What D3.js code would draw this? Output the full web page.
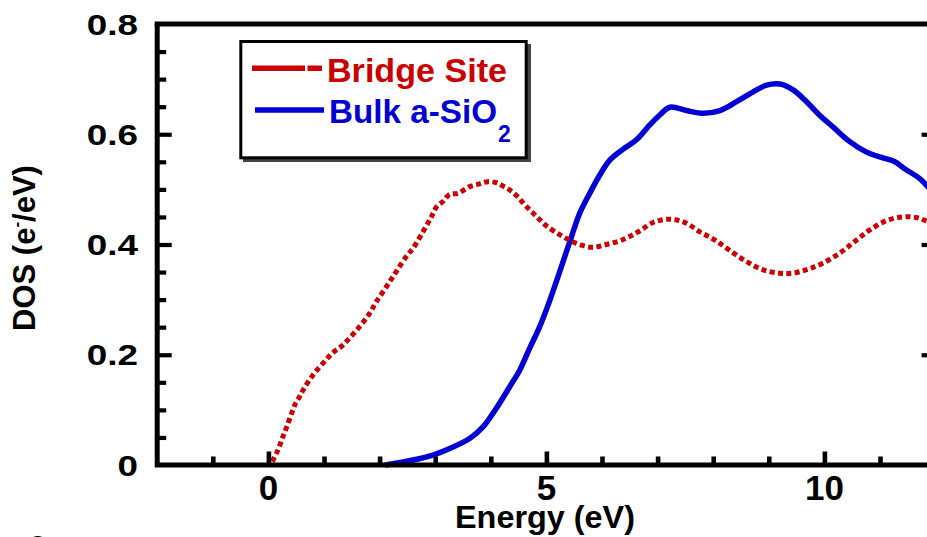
<!DOCTYPE html>
<html>
<head>
<meta charset="utf-8">
<script src="https://cdn.jsdelivr.net/npm/d3@7/dist/d3.min.js"></script>
<style>
  html, body { margin: 0; padding: 0; background: #fff; overflow: hidden; }
  svg { display: block; }
  text { font-family: "Liberation Sans", Arial, Helvetica, sans-serif; font-weight: bold; }
</style>
</head>
<body>
<svg id="chart" width="927" height="537"></svg>
<script>
// Density of states: bridge-site defect vs. bulk amorphous SiO2
const bridgeEnergy = [0.07, 0.17, 0.26, 0.33, 0.43, 0.49, 0.56, 0.63, 0.80, 1.03, 1.16, 1.31, 1.43, 1.64, 1.82, 1.94,
  2.12, 2.30, 2.50, 2.60, 2.78, 2.93, 3.03, 3.14, 3.26, 3.41, 3.62, 3.80, 3.95, 4.10, 4.22, 4.34, 4.49, 4.61, 4.75,
  4.87, 5.00, 5.27, 5.54, 5.81, 6.08, 6.38, 6.65, 6.92, 7.22, 7.49, 7.76, 8.03, 8.30, 8.60, 8.90, 9.20, 9.43, 9.70,
  9.97, 10.27, 10.54, 10.81, 11.11, 11.41, 11.65, 11.83, 12.0];
const bridgeDOS = [0.006, 0.027, 0.051, 0.069, 0.097, 0.112, 0.124, 0.137, 0.163, 0.190, 0.204, 0.215, 0.227, 0.251,
  0.275, 0.296, 0.323, 0.351, 0.381, 0.393, 0.423, 0.450, 0.469, 0.478, 0.491, 0.493, 0.505, 0.510, 0.514, 0.512,
  0.506, 0.499, 0.486, 0.472, 0.458, 0.446, 0.434, 0.416, 0.402, 0.395, 0.400, 0.409, 0.423, 0.440, 0.446, 0.440,
  0.423, 0.408, 0.389, 0.369, 0.354, 0.348, 0.348, 0.355, 0.366, 0.384, 0.405, 0.426, 0.443, 0.450, 0.449, 0.443, 0.438];

const bulkEnergy = [2.10, 2.60, 2.96, 3.26, 3.62, 3.86, 4.10, 4.34, 4.52, 4.70, 4.88, 5.03, 5.27, 5.45, 5.60, 5.78,
  5.96, 6.14, 6.38, 6.62, 6.86, 7.04, 7.22, 7.52, 7.82, 8.12, 8.42, 8.72, 8.96, 9.20, 9.43, 9.68, 9.90, 10.18, 10.45,
  10.75, 11.05, 11.25, 11.45, 11.71, 11.83, 12.0];
const bulkDOS = [0.000, 0.009, 0.018, 0.030, 0.048, 0.069, 0.103, 0.142, 0.172, 0.212, 0.251, 0.290, 0.360, 0.414,
  0.457, 0.493, 0.526, 0.553, 0.573, 0.590, 0.617, 0.635, 0.649, 0.643, 0.638, 0.643, 0.659, 0.677, 0.689, 0.691,
  0.681, 0.659, 0.636, 0.611, 0.587, 0.568, 0.557, 0.551, 0.537, 0.520, 0.508, 0.490];

const seriesNames = ["Bridge Site", "Bulk a-SiO"];
const seriesColors = ["#c80000", "#0000d2"];

const xMajorTicks = [0, 5, 10];
const xMinorTicks = [-1, 1, 2, 3, 4, 6, 7, 8, 9, 11];
const yLabelTicks = [0, 0.2, 0.4, 0.6, 0.8];
const yMajorTicks = [0.2, 0.4, 0.6];
const yMinorTicks = [0.05, 0.1, 0.15, 0.25, 0.3, 0.35, 0.45, 0.5, 0.55, 0.65, 0.7, 0.75];

const svg = d3.select("#chart");

const x = d3.scaleLinear().domain([-2, 12]).range([157.2, 935.6]);
const y = d3.scaleLinear().domain([0, 0.8]).range([465, 24]);

const line = d3.line().x(d => x(d[0])).y(d => y(d[1])).curve(d3.curveCatmullRom.alpha(0.5));
const bridge = bridgeEnergy.map((e, i) => [e, bridgeDOS[i]]);
const bulk = bulkEnergy.map((e, i) => [e, bulkDOS[i]]);

// curves
svg.append("path").attr("d", line(bulk))
  .attr("fill", "none").attr("stroke", seriesColors[1]).attr("stroke-width", 5.5)
  .attr("stroke-linejoin", "round");
svg.append("path").attr("d", line(bridge))
  .attr("fill", "none").attr("stroke", seriesColors[0]).attr("stroke-width", 5)
  .attr("stroke-dasharray", "5 3.4");

// tick marks pointing into the plot
function styleTicks(g, w) {
  g.select(".domain").remove();
  g.selectAll(".tick line").attr("stroke", "#000").attr("stroke-width", w);
  g.selectAll(".tick text").remove();
}
svg.append("g").attr("transform", `translate(0,${y(0)})`)
  .call(d3.axisBottom(x).tickValues(xMinorTicks).tickSize(-8.5).tickFormat(""))
  .call(g => styleTicks(g, 4.6));
svg.append("g").attr("transform", `translate(0,${y(0)})`)
  .call(d3.axisBottom(x).tickValues(xMajorTicks).tickSize(-13.5).tickFormat(""))
  .call(g => styleTicks(g, 4.6));
svg.append("g").attr("transform", `translate(${x(-2)},0)`)
  .call(d3.axisLeft(y).tickValues(yMinorTicks).tickSize(-9).tickFormat(""))
  .call(g => styleTicks(g, 4.2));
svg.append("g").attr("transform", `translate(${x(-2)},0)`)
  .call(d3.axisLeft(y).tickValues(yMajorTicks).tickSize(-14.5).tickFormat(""))
  .call(g => styleTicks(g, 4.2));
svg.append("g").attr("transform", `translate(${x(12)},0)`)
  .call(d3.axisRight(y).tickValues(yMajorTicks).tickSize(-14).tickFormat(""))
  .call(g => styleTicks(g, 4.2));

// frame
const frame = [[x(-2), y(0.8)], [x(-2), y(0)], [x(12), y(0)], [x(12), y(0.8)]];
svg.append("path").attr("d", d3.line()(frame))
  .attr("fill", "none").attr("stroke", "#000").attr("stroke-width", 5).attr("stroke-linejoin", "miter");
svg.append("line").attr("x1", x(-2) - 2.5).attr("x2", x(12)).attr("y1", y(0.8)).attr("y2", y(0.8))
  .attr("stroke", "#000").attr("stroke-width", 5);

// tick labels
svg.append("g").selectAll("text").data(xMajorTicks).join("text")
  .attr("x", d => x(d)).attr("y", 500).attr("text-anchor", "middle")
  .attr("font-size", 35).attr("fill", "#000").text(d => d3.format("d")(d));
svg.append("g").selectAll("text").data(yLabelTicks).join("text")
  .attr("transform", d => `translate(138,${y(d) + 10.5}) scale(1.27,1)`)
  .attr("text-anchor", "end").attr("font-size", 29).attr("fill", "#000")
  .text(d => d === 0 ? "0" : d3.format(".1f")(d));

// axis titles
svg.append("text").attr("x", 545).attr("y", 528).attr("text-anchor", "middle")
  .attr("font-size", 32).attr("fill", "#000").attr("textLength", 180).attr("lengthAdjust", "spacingAndGlyphs")
  .text("Energy (eV)");
const yTitle = svg.append("text").attr("transform", "translate(35,248) rotate(-90)")
  .attr("text-anchor", "middle").attr("font-size", 31).attr("fill", "#000");
yTitle.append("tspan").text("DOS (e");
yTitle.append("tspan").attr("font-size", 17).attr("dy", -13).text("-");
yTitle.append("tspan").attr("dy", 13).text("/eV)");

// panel letter at the lower-left edge
svg.append("text").attr("x", 37.5).attr("y", 553).attr("text-anchor", "middle")
  .attr("font-size", 32).attr("fill", "#000").text("c");

// legend
const legend = svg.append("g");
legend.append("rect").attr("x", 243).attr("y", 44).attr("width", 288).attr("height", 118)
  .attr("fill", "#444");
legend.append("rect").attr("x", 240.8).attr("y", 41.5).attr("width", 285.4).attr("height", 116.3)
  .attr("fill", "#fff").attr("stroke", "#000").attr("stroke-width", 3);
legend.append("line").attr("x1", 252).attr("x2", 322).attr("y1", 68.3).attr("y2", 68.3)
  .attr("stroke", seriesColors[0]).attr("stroke-width", 5.5).attr("stroke-dasharray", "53 2.5 100");
legend.append("line").attr("x1", 255).attr("x2", 324).attr("y1", 110).attr("y2", 110)
  .attr("stroke", seriesColors[1]).attr("stroke-width", 5.5);
legend.append("text").attr("x", 327).attr("y", 81.7).attr("font-size", 32.5)
  .attr("fill", seriesColors[0]).attr("textLength", 180).attr("lengthAdjust", "spacingAndGlyphs")
  .text(seriesNames[0]);
legend.append("text").attr("x", 329).attr("y", 123.3).attr("font-size", 32.5)
  .attr("fill", seriesColors[1]).attr("textLength", 168).attr("lengthAdjust", "spacingAndGlyphs")
  .text(seriesNames[1]);
legend.append("text").attr("x", 498).attr("y", 141.7).attr("font-size", 23)
  .attr("fill", seriesColors[1]).text("2");
</script>
</body>
</html>
